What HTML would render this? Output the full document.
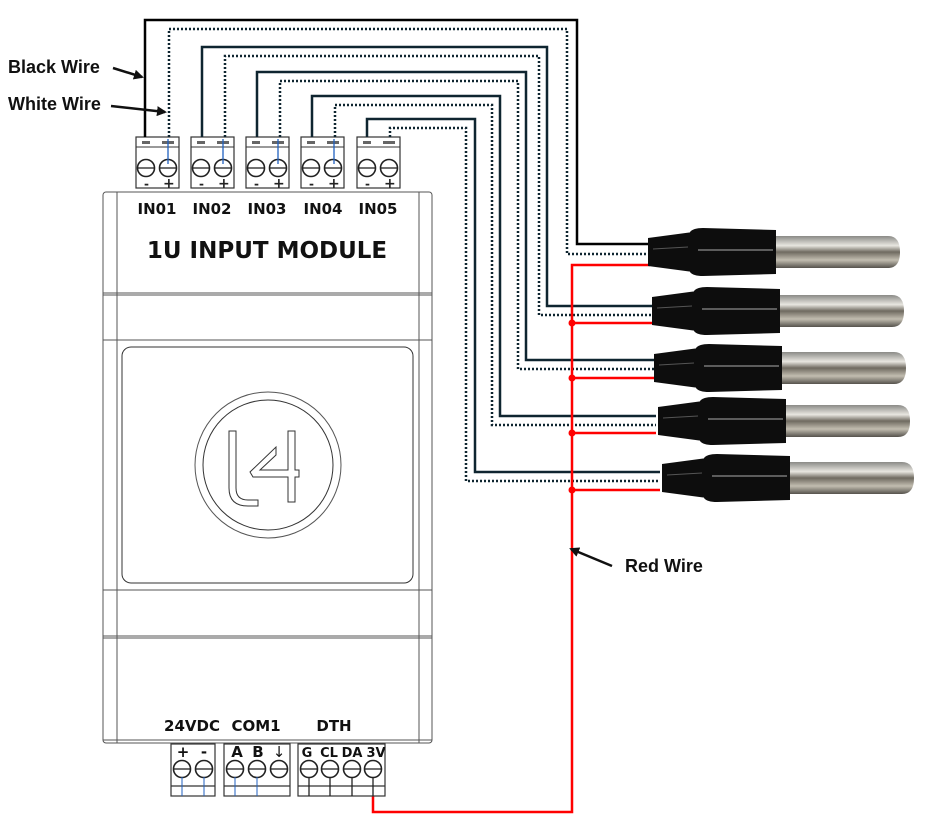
<!DOCTYPE html>
<html><head><meta charset="utf-8"><style>
html,body{margin:0;padding:0;background:#fff;}
svg{display:block;}
.lbl{font-family:"Liberation Sans",Arial,sans-serif;font-weight:bold;font-size:18px;fill:#111;}
.mod{font-family:"DejaVu Sans","Liberation Sans",sans-serif;font-weight:bold;fill:#111;}
</style></head><body>
<svg width="930" height="824" viewBox="0 0 930 824" xmlns="http://www.w3.org/2000/svg">
<defs>
<marker id="ah" markerWidth="10" markerHeight="10" refX="8" refY="5" orient="auto" markerUnits="userSpaceOnUse"><path d="M0,0 L10,5 L0,10 z" fill="#111"/></marker>
<linearGradient id="metal" x1="0" y1="0" x2="0" y2="1">
<stop offset="0" stop-color="#8a8a86"/><stop offset="0.3" stop-color="#e8e6e0"/><stop offset="0.5" stop-color="#6f6a60"/><stop offset="0.75" stop-color="#c2bdb0"/><stop offset="1" stop-color="#55524c"/></linearGradient>
<g id="sensor">
<path d="M0,-14 L45,-20 L45,20 L0,14 Z" fill="#0d0d0d"/>
<path d="M42,-20 Q45,-24 55,-24 L128,-22 L128,22 L55,24 Q45,24 42,20 Z" fill="#0d0d0d"/>
<line x1="50" y1="-2" x2="125" y2="-2" stroke="#777" stroke-width="1.5"/>
<line x1="5" y1="-3" x2="40" y2="-5" stroke="#555" stroke-width="1"/>
<path d="M128,-16 L240,-16 Q252,-16 252,0 Q252,16 240,16 L128,16 Z" fill="url(#metal)"/>
</g>
<g id="tb">
<rect x="0" y="0" width="43" height="51" fill="#fff" stroke="#333" stroke-width="1.2"/>
<line x1="0" y1="10" x2="43" y2="10" stroke="#333"/>
<rect x="6" y="4" width="8" height="3" fill="#666"/>
<rect x="26" y="4" width="12" height="3" fill="#666"/>
<circle cx="10" cy="31" r="8.5" fill="#fff" stroke="#222" stroke-width="1.6"/>
<circle cx="32" cy="31" r="8.5" fill="#fff" stroke="#222" stroke-width="1.6"/>
<line x1="2" y1="31" x2="18" y2="31" stroke="#222" stroke-width="1.3"/>
<line x1="24" y1="31" x2="40" y2="31" stroke="#222" stroke-width="1.3"/>
<text x="8" y="51" font-family="DejaVu Sans" font-size="12" font-weight="bold" fill="#222">-</text>
<text x="27" y="51" font-family="DejaVu Sans" font-size="14" font-weight="bold" fill="#222">+</text>
</g>
</defs>

<!-- module body -->
<g fill="none" stroke="#555" stroke-width="1">
<rect x="103" y="192" width="329" height="551" rx="3"/>
<line x1="117" y1="192" x2="117" y2="743"/>
<line x1="419" y1="192" x2="419" y2="743"/>
<line x1="103" y1="293" x2="432" y2="293"/>
<line x1="103" y1="295" x2="432" y2="295"/>
<line x1="103" y1="340" x2="432" y2="340"/>
<line x1="103" y1="590" x2="432" y2="590"/>
<line x1="103" y1="636" x2="432" y2="636"/>
<line x1="103" y1="638" x2="432" y2="638"/>
<rect x="122" y="347" width="291" height="236" rx="9" stroke="#333"/>
<circle cx="268" cy="465" r="73"/>
<circle cx="268" cy="465" r="65" stroke="#333"/>
<path d="M229,431 L236,431 L236,488 Q236,500 248,500 L258,500 L258,506 L248,506 Q229,506 229,488 Z" stroke="#333"/>
<path d="M288,431 L295,431 L295,470 L299,470 L299,477 L295,477 L295,502 L288,502 L288,477 L253,477 L250,472 L276,447 L276,455 L260,470 L288,470 Z" stroke="#333"/>
<line x1="103" y1="740" x2="432" y2="740"/>
</g>
<text class="mod" x="267" y="258" font-size="23" text-anchor="middle">1U INPUT MODULE</text>

<!-- top terminals -->
<use href="#tb" x="136" y="137"/>
<use href="#tb" x="191" y="137"/>
<use href="#tb" x="246" y="137"/>
<use href="#tb" x="301" y="137"/>
<use href="#tb" x="357" y="137"/>
<g class="mod" font-size="15" text-anchor="middle">
<text x="157" y="214">IN01</text><text x="212" y="214">IN02</text><text x="267" y="214">IN03</text><text x="323" y="214">IN04</text><text x="378" y="214">IN05</text>
</g>
<g stroke="#2060c0" stroke-width="1.3">
<line x1="168" y1="139" x2="168" y2="164"/><line x1="223" y1="139" x2="223" y2="164"/><line x1="278" y1="139" x2="278" y2="164"/><line x1="334" y1="139" x2="334" y2="164"/>
</g>

<!-- wires solid -->
<g fill="none" stroke-width="2.5">
<polyline points="145,137 145,20 577,20 577,244 650,244" stroke="#000"/>
<polyline points="202,137 202,47 547,47 547,306 652,306" stroke="#0f2530"/>
<polyline points="257,137 257,72 526,72 526,360 654,360" stroke="#0f2530"/>
<polyline points="312,137 312,96 500,96 500,416 656,416" stroke="#0f2530"/>
<polyline points="367,137 367,119 475,119 475,472 660,472" stroke="#0f2530"/>
</g>
<g fill="none" stroke-width="2.5" stroke="#0f2530" stroke-dasharray="2 2">
<polyline points="169,137 169,29 567,29 567,254 650,254"/>
<polyline points="225,137 225,56 539,56 539,315 652,315"/>
<polyline points="280,137 280,81 518,81 518,369 654,369"/>
<polyline points="335,137 335,105 492,105 492,425 656,425"/>
<polyline points="390,137 390,128 466,128 466,481 660,481"/>
</g>

<!-- red -->
<g fill="none" stroke="#f00" stroke-width="2.5">
<polyline points="650,265 572,265 572,812 373,812 373,796"/>
<line x1="572" y1="323" x2="652" y2="323"/>
<line x1="572" y1="378" x2="654" y2="378"/>
<line x1="572" y1="433" x2="656" y2="433"/>
<line x1="572" y1="490" x2="660" y2="490"/>
</g>
<g fill="#f00">
<circle cx="572" cy="323" r="3.5"/><circle cx="572" cy="378" r="3.5"/><circle cx="572" cy="433" r="3.5"/><circle cx="572" cy="490" r="3.5"/>
</g>

<!-- sensors -->
<use href="#sensor" transform="translate(648,252)"/>
<use href="#sensor" transform="translate(652,311)"/>
<use href="#sensor" transform="translate(654,368)"/>
<use href="#sensor" transform="translate(658,421)"/>
<use href="#sensor" transform="translate(662,478)"/>

<!-- bottom terminals -->
<g fill="#fff" stroke="#333" stroke-width="1.2">
<rect x="171" y="744" width="44" height="52"/>
<rect x="224" y="744" width="66" height="52"/>
<rect x="298" y="744" width="87" height="52"/>
<line x1="171" y1="786" x2="215" y2="786"/><line x1="224" y1="786" x2="290" y2="786"/><line x1="298" y1="786" x2="385" y2="786"/>
</g>
<g fill="#fff" stroke="#222" stroke-width="1.6">
<circle cx="182" cy="769" r="8.5"/><circle cx="204" cy="769" r="8.5"/>
<circle cx="235" cy="769" r="8.5"/><circle cx="257" cy="769" r="8.5"/><circle cx="279" cy="769" r="8.5"/>
<circle cx="309" cy="769" r="8.5"/><circle cx="330" cy="769" r="8.5"/><circle cx="352" cy="769" r="8.5"/><circle cx="373" cy="769" r="8.5"/>
</g>
<g stroke="#222" stroke-width="1.3"><line x1="174" y1="769" x2="190" y2="769"/><line x1="196" y1="769" x2="212" y2="769"/><line x1="227" y1="769" x2="243" y2="769"/><line x1="249" y1="769" x2="265" y2="769"/><line x1="271" y1="769" x2="287" y2="769"/><line x1="301" y1="769" x2="317" y2="769"/><line x1="322" y1="769" x2="338" y2="769"/><line x1="344" y1="769" x2="360" y2="769"/><line x1="365" y1="769" x2="381" y2="769"/>
<line x1="309" y1="777" x2="309" y2="796"/><line x1="330" y1="777" x2="330" y2="796"/><line x1="352" y1="777" x2="352" y2="796"/><line x1="373" y1="777" x2="373" y2="796"/></g>
<g stroke="#2060c0"><line x1="182" y1="777" x2="182" y2="796"/><line x1="204" y1="777" x2="204" y2="796"/><line x1="235" y1="777" x2="235" y2="796"/><line x1="257" y1="777" x2="257" y2="796"/></g>
<g class="mod" font-size="15" text-anchor="middle">
<text x="192" y="731">24VDC</text><text x="256" y="731">COM1</text><text x="334" y="731">DTH</text>
<text x="183" y="757">+</text><text x="204" y="757">-</text><text x="237" y="757">A</text><text x="258" y="757">B</text><text x="279" y="757" font-weight="normal">↓</text>
<text x="307" y="757" font-size="13">G</text><text x="329" y="757" font-size="13">CL</text><text x="352" y="757" font-size="13">DA</text><text x="376" y="757" font-size="13">3V</text>
</g>

<!-- labels -->
<text class="lbl" x="8" y="73">Black Wire</text>
<text class="lbl" x="8" y="110">White Wire</text>
<text class="lbl" x="625" y="572">Red Wire</text>
<g stroke="#111" stroke-width="2.5" fill="none">
<line x1="113" y1="68" x2="142" y2="77" marker-end="url(#ah)"/>
<line x1="111" y1="106" x2="165" y2="112" marker-end="url(#ah)"/>
<line x1="612" y1="566" x2="571" y2="549" marker-end="url(#ah)"/>
</g>
</svg>
</body></html>
